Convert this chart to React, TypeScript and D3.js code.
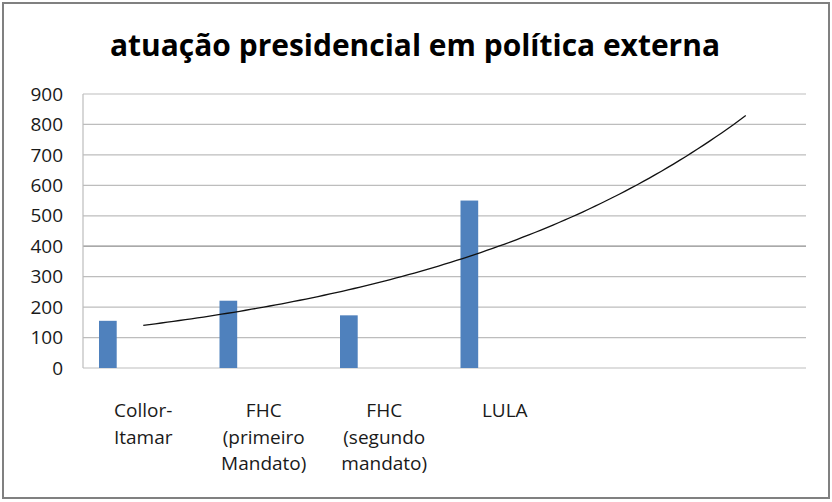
import React from "react";
import * as d3 from "d3";

const categories = [
  ["Collor-", "Itamar"],
  ["FHC", "(primeiro", "Mandato)"],
  ["FHC", "(segundo", "mandato)"],
  ["LULA"],
  [],
  [],
];
const values = [155, 221, 173, 550];
const yTicks = [0, 100, 200, 300, 400, 500, 600, 700, 800, 900];
const title = "atuação presidencial em política externa";

export default function App() {
  const W = 832, H = 502;
  const left = 83, right = 806, top = 94, bottom = 368;
  const idx = categories.map((_, i) => i);
  const x = d3.scaleBand<number>().domain(idx).range([left, right]).padding(0);
  const sub = d3.scaleBand<number>().domain([0, 1, 2, 3, 4]).range([16, x.bandwidth() - 16]).padding(0);
  const y = d3.scaleLinear().domain([0, 900]).range([bottom, top]);

  // exponential trendline (least squares on ln y), x = 1..n
  const xs = values.map((_, i) => i + 1);
  const ly = values.map((v) => Math.log(v));
  const mx = d3.mean(xs)!, my = d3.mean(ly)!;
  const b = d3.sum(xs.map((xv, i) => (xv - mx) * (ly[i] - my))) / d3.sum(xs.map((xv) => (xv - mx) ** 2));
  const a = Math.exp(my - b * mx);
  const trendPts = d3.range(1, 6.001, 0.05).map((t) => [t, a * Math.exp(b * t)] as [number, number]);
  const cx = (t: number) => x(0)! + x.bandwidth() * (t - 0.5);
  const line = d3.line<[number, number]>().x((d) => cx(d[0])).y((d) => y(d[1])).curve(d3.curveLinear);

  const font = "'Open Sans', sans-serif";
  return (
    <svg width={W} height={H} style={{ position: "absolute", left: 0, top: 0, background: "#fff" }}>
      <rect x={3} y={3} width={826} height={495} fill="#fff" stroke="#808080" strokeWidth={2} />
      <text x={415} y={56} textAnchor="middle" fontFamily={font} fontWeight={700} fontSize={30}
        textLength={610} lengthAdjust="spacingAndGlyphs" fill="#000">{title}</text>
      {yTicks.map((t) => (
        <g key={t}>
          <line x1={left} x2={right} y1={y(t)} y2={y(t)} stroke={t === 400 ? "#8c8c8c" : "#bdbdbd"} strokeWidth={1.2} />
          <text x={63} y={y(t)} dy="0.35em" textAnchor="end" fontFamily={font} fontSize={19} fill="#1a1a1a">{t}</text>
        </g>
      ))}
      <line x1={left} x2={left} y1={top} y2={bottom} stroke="#bdbdbd" strokeWidth={1.2} />
      {values.map((v, i) => (
        <rect key={i} x={x(i)! + sub(0)!} y={y(v)} width={sub.bandwidth()} height={bottom - y(v)} fill="#4f81bd" />
      ))}
      <path d={line(trendPts)!} fill="none" stroke="#111" strokeWidth={1.3} />
      {categories.map((lines, i) => (
        <text key={i} textAnchor="middle" fontFamily={font} fontSize={19} fill="#1a1a1a">
          {lines.map((l, j) => (
            <tspan key={j} x={x(i)! + x.bandwidth() / 2} y={417 + j * 26.5}>{l}</tspan>
          ))}
        </text>
      ))}
    </svg>
  );
}
